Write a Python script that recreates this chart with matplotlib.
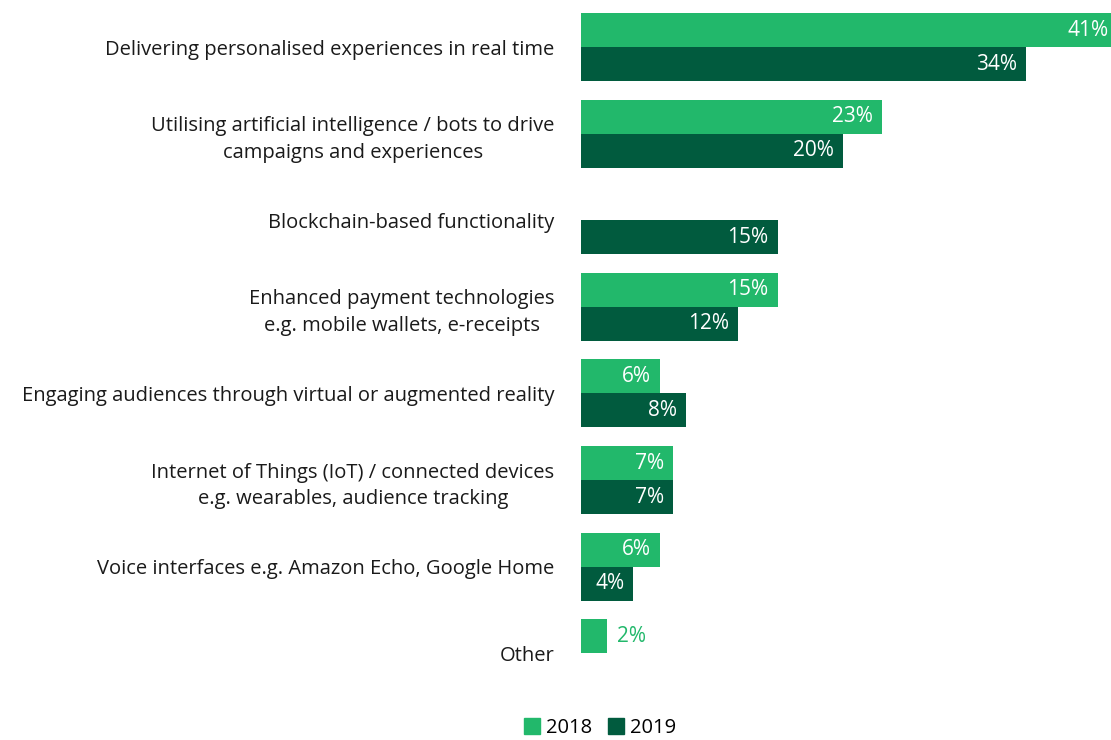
import numpy as np
import matplotlib
matplotlib.use("Agg")
import matplotlib.pyplot as plt
from matplotlib.patches import Patch

plt.rcParams['font.family'] = ['Open Sans', 'DejaVu Sans']

categories = [
    "Delivering personalised experiences in real time",
    "Utilising artificial intelligence / bots to drive\ncampaigns and experiences",
    "Blockchain-based functionality",
    "Enhanced payment technologies\ne.g. mobile wallets, e-receipts",
    "Engaging audiences through virtual or augmented reality",
    "Internet of Things (IoT) / connected devices\ne.g. wearables, audience tracking",
    "Voice interfaces e.g. Amazon Echo, Google Home",
    "Other",
]
values_2018 = [41, 23, np.nan, 15, 6, 7, 6, 2]
values_2019 = [34, 20, 15, 12, 8, 7, 4, np.nan]
series_names = ["2018", "2019"]

light = "#22b86b"
dark = "#015b3e"

W, H = 1111, 740
fig = plt.figure(figsize=(W / 100, H / 100), dpi=100)
ax = fig.add_axes([581 / W, 40 / H, 1 - 581 / W, 700 / H])

xmax = 530 / 13.1
ax.set_xlim(0, xmax)
ax.set_ylim(7.54, -0.543)

bar_h = 0.393
y = np.arange(len(categories))
ax.barh(y - bar_h / 2, values_2018, height=bar_h, color=light)
ax.barh(y + bar_h / 2, values_2019, height=bar_h, color=dark)

px = xmax / 530  # data units per pixel

def label_bars(vals, offset):
    for yi, v in zip(y, vals):
        if np.isnan(v):
            continue
        txt = f"{v:g}%"
        yy = yi + offset
        if v >= 4:
            ax.text(v - 9 * px, yy, txt, ha="right", va="center", color="white",
                    fontsize=15)
        else:
            ax.text(v + 10 * px, yy, txt, ha="left", va="center", color=light,
                    fontsize=15)

label_bars(values_2018, -bar_h / 2)
label_bars(values_2019, bar_h / 2)

ax.set_yticks(y)
ax.set_yticklabels(categories, fontsize=14.5, color="#1a1a1a", ha="right",
                   multialignment="center", linespacing=1.45)
ax.tick_params(axis="y", length=0, pad=19)
ax.set_xticks([])
for s in ax.spines.values():
    s.set_visible(False)

handles = [Patch(color=light, label=series_names[0]),
           Patch(color=dark, label=series_names[1])]
fig.legend(handles=handles, loc="lower center", bbox_to_anchor=(0.540, -0.022),
           ncol=2, frameon=False, fontsize=14.5, handlelength=0.8,
           handleheight=0.8, handletextpad=0.3, columnspacing=0.8)

fig.savefig("out.png", dpi=100)
